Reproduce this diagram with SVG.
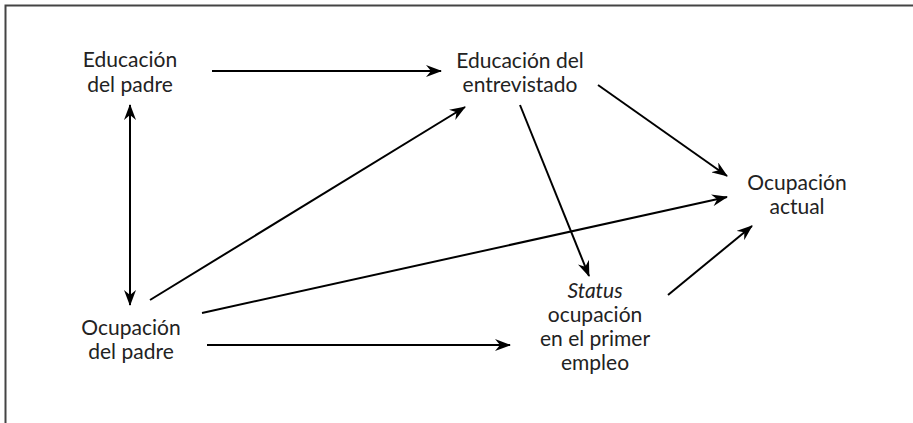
<svg xmlns="http://www.w3.org/2000/svg" width="913" height="423" viewBox="0 0 913 423">
<defs>
<marker id="ah" viewBox="0 0 16 12" refX="15" refY="6" markerWidth="16" markerHeight="12" markerUnits="userSpaceOnUse" orient="auto-start-reverse">
<path d="M0,0 L16,6 L0,12 L5,6 z" fill="#000"/>
</marker>
<style>
text{font-family:Lato,"Liberation Sans",sans-serif;font-size:21px;fill:#222;text-anchor:middle}
.c line{stroke:#000;stroke-width:2;marker-end:url(#ah)}
</style>
</defs>
<rect width="913" height="423" fill="#fff"/>
<path d="M5.5,423 V5.5 H913" fill="none" stroke="#444" stroke-width="2"/>
<g id="edu-padre"><text x="130" y="67">Educación</text><text x="130" y="92">del padre</text></g>
<g id="edu-entrevistado"><text x="520" y="68">Educación del</text><text x="520" y="92">entrevistado</text></g>
<g id="ocup-actual"><text x="797" y="190">Ocupación</text><text x="797" y="214">actual</text></g>
<g id="ocup-padre"><text x="131" y="335">Ocupación</text><text x="131" y="359">del padre</text></g>
<g id="status"><text x="595" y="298" font-style="italic">Status</text><text x="595" y="322">ocupación</text><text x="595" y="346">en el primer</text><text x="595" y="370">empleo</text></g>
<g class="c" id="connectors">
<line x1="212" y1="71" x2="441" y2="71"/>
<line x1="130" y1="105" x2="130" y2="305" marker-start="url(#ah)"/>
<line x1="150" y1="300" x2="465" y2="107"/>
<line x1="202" y1="313" x2="727" y2="197"/>
<line x1="207" y1="345" x2="510" y2="345"/>
<line x1="520" y1="105" x2="589" y2="276"/>
<line x1="598" y1="85" x2="727" y2="176"/>
<line x1="668" y1="295" x2="752" y2="226"/>
</g>
</svg>
